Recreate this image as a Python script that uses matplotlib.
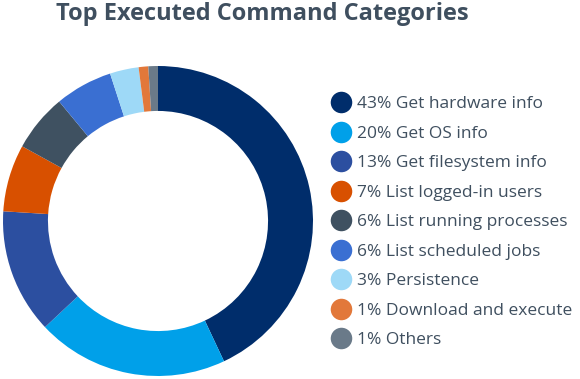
import matplotlib
matplotlib.use("Agg")
import matplotlib.pyplot as plt
from matplotlib.lines import Line2D

plt.rcParams['font.family'] = ['Open Sans', 'DejaVu Sans']

# данные
categories = ['Get hardware info', 'Get OS info', 'Get filesystem info',
              'List logged-in users', 'List running processes',
              'List scheduled jobs', 'Persistence', 'Download and execute', 'Others']
shares = [43, 20, 13, 7, 6, 6, 3, 1, 1]
colors = ['#002d6b', '#00a0e9', '#2c4fa0', '#d85000', '#3f5161',
          '#3a6fd2', '#9ed9f7', '#e2783a', '#6a7a89']

W, H = 580, 379
fig = plt.figure(figsize=(W / 100, H / 100), dpi=100)

# бублик
ax = fig.add_axes([3 / W, 1 - 376 / H, 310 / W, 310 / H])
ax.pie(shares, colors=colors, startangle=90, counterclock=False, radius=1,
       wedgeprops=dict(width=0.29, linewidth=0))
ax.set_xlim(-1, 1)
ax.set_ylim(-1, 1)
ax.set_aspect('equal')
ax.axis('off')

fig.text(262 / W, 1 - 14 / H, 'Top Executed Command Categories', ha='center', va='center',
         fontsize=17, fontweight='bold', color='#3f4f5f')

# легенда
handles = [Line2D([], [], marker='o', linestyle='none', markersize=15.5,
                  markerfacecolor=c, markeredgewidth=0) for c in colors]
labels = [f'{s}% {c}' for s, c in zip(shares, categories)]
fig.legend(handles, labels, loc='upper left', bbox_to_anchor=(332 / W, 1 - 96 / H),
           frameon=False, fontsize=12.5, labelcolor='#3f4f5f', handlelength=1.0,
           handletextpad=0.45, labelspacing=0.77, borderpad=0, borderaxespad=0)

fig.savefig('out.png', dpi=100)
